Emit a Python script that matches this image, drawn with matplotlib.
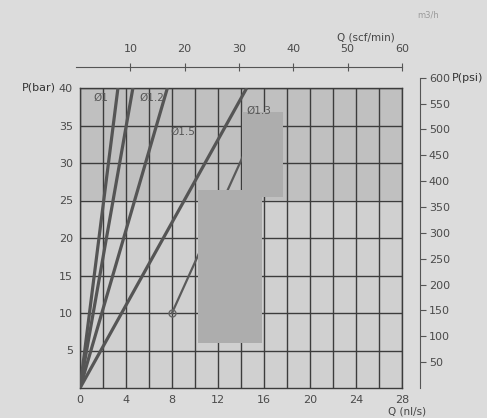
import matplotlib
matplotlib.use("Agg")
import matplotlib.pyplot as plt
import numpy as np

# ---- data ----
line_labels = ["Ø1", "Ø1.2", "Ø1.5", "Ø1.3"]
q_at_40bar = [3.3, 4.6, 7.6, 14.5]          # nl/s reached at 40 bar by each line through the origin
extra_q = [8.0, 14.2]                        # short line segment (Q, nl/s)
extra_p = [10.0, 31.0]                       # short line segment (P, bar)
bottom_ticks = [0, 4, 8, 12, 16, 20, 24, 28]
top_ticks = [10, 20, 30, 40, 50, 60]
psi_ticks = [50, 100, 150, 200, 250, 300, 350, 400, 450, 500, 550, 600]
bar_ticks = [5, 10, 15, 20, 25, 30, 35, 40]

W, H = 487, 418
fig = plt.figure(figsize=(W / 100, H / 100), dpi=100)
fig.patch.set_facecolor("#dcdcdc")
txt = "#4a4a4a"
gridc = "#3c3c3c"

def fx(px):
    return px / W

def fy(py):
    return 1 - py / H

# main axes
x0, x1, y0, y1 = 80, 402, 88, 388
ax = fig.add_axes([fx(x0), fy(y1), fx(x1) - fx(x0), fy(y0) - fy(y1)])
ax.set_xlim(0, 28)
ax.set_ylim(0, 40)
ax.set_facecolor("#d0d0d0")
ax.axhspan(25, 40, color="#c0c0c0", zorder=0, lw=0)

ax.set_xticks(bottom_ticks)
ax.set_xticks(np.arange(0, 29, 2), minor=True)
ax.set_yticks(bar_ticks)
ax.set_xticklabels([str(t) for t in bottom_ticks], fontsize=8, color=txt)
ax.set_yticklabels([str(t) for t in bar_ticks], fontsize=8, color=txt)
ax.tick_params(which="both", length=0, pad=5)
ax.grid(True, which="both", color=gridc, lw=1.0, zorder=1)
ax.set_axisbelow(True)
for s in ax.spines.values():
    s.set_color(gridc)
    s.set_linewidth(1.0)

# lines through the origin
for q40 in q_at_40bar:
    ax.plot([0, q40], [0, 40], color="#555555", lw=2.3, zorder=3, solid_capstyle="butt")
ax.plot(extra_q, extra_p, color="#5a5a5a", lw=1.6, zorder=3)
ax.plot(extra_q[0], extra_p[0], marker="o", ms=5, mfc="none", mec="#666666", zorder=3)

# scanner patches
ax.add_patch(plt.Rectangle((10.3, 6.0), 5.5, 20.4, color="#adadad", lw=0, zorder=4))
ax.add_patch(plt.Rectangle((14.1, 25.5), 3.55, 11.3, color="#adadad", lw=0, zorder=4))

# line labels
lab_pos = [(1.2, 38.3), (5.2, 38.3), (7.9, 33.8), (14.5, 36.5)]
for lab, (lx, ly) in zip(line_labels, lab_pos):
    ax.text(lx, ly, lab, fontsize=7.5, color="#555555", zorder=5)

fig.text(fx(22), fy(88), "P(bar)", fontsize=8, color="#333333", va="center")
fig.text(fx(388), fy(412), "Q (nl/s)", fontsize=7.5, color="#444444", va="center")

# right psi axis
axr = fig.add_axes([fx(420), fy(y1), 0.001, (fy(y0) - fy(y1)) * 600 / 580])
axr.set_ylim(0, 600)
axr.set_xticks([])
axr.patch.set_alpha(0)
for k in ["top", "bottom", "left"]:
    axr.spines[k].set_visible(False)
axr.spines["right"].set_color("#555555")
axr.yaxis.tick_right()
axr.set_yticks(psi_ticks)
axr.set_yticklabels([str(t) for t in psi_ticks], fontsize=8, color=txt)
axr.tick_params(axis="y", length=4, color="#555555", pad=2)
fig.text(fx(452), fy(78), "P(psi)", fontsize=8, color="#333333", va="center")

# top scf/min axis
axt = fig.add_axes([fx(76), fy(67), fx(402) - fx(76), 0.001])
axt.set_xlim(0, 60)
axt.set_yticks([])
axt.patch.set_alpha(0)
for k in ["top", "left", "right"]:
    axt.spines[k].set_visible(False)
axt.spines["bottom"].set_color("#555555")
axt.xaxis.tick_top()
axt.set_xticks(top_ticks)
axt.set_xticklabels([str(t) for t in top_ticks], fontsize=8, color=txt)
axt.tick_params(axis="x", direction="inout", length=6, color="#555555", pad=6)
fig.text(fx(366), fy(37), "Q (scf/min)", fontsize=7.5, color="#444444", ha="center", va="center")
fig.text(fx(428), fy(15), "m3/h", fontsize=6, color="#9a9a9a", ha="center", va="center")

fig.savefig("out.png", dpi=100, facecolor=fig.get_facecolor())
